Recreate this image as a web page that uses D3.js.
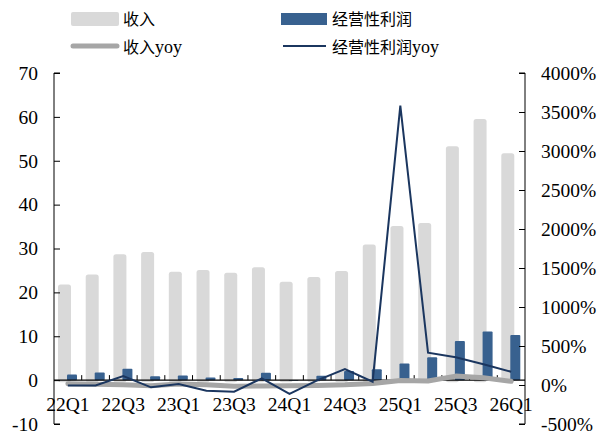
<!DOCTYPE html>
<html lang="zh">
  <head>
    <meta charset="utf-8">
    <title>收入与经营性利润</title>
    <script src="https://d3js.org/d3.v7.min.js"></script>
    <style>
      body { margin: 0; background: #fff; }
      text { font-family: "Liberation Serif", "Times New Roman", serif; }
      .cjk { font-family: "Noto Sans CJK SC", sans-serif; }
    </style>
  </head>
  <body>
    <div id="chart"></div>
    <script type="text/javascript">
      // quarters on the x axis
      const quarters = ["22Q1","22Q2","22Q3","22Q4","23Q1","23Q2","23Q3","23Q4",
                        "24Q1","24Q2","24Q3","24Q4","25Q1","25Q2","25Q3","25Q4","26Q1"];
      // only every other quarter gets a label
      const tickLabels = ["22Q1","22Q3","23Q1","23Q3","24Q1","24Q3","25Q1","25Q3","26Q1"];
      // revenue (left axis)
      const revenue = [21.8, 24.1, 28.7, 29.2, 24.7, 25.1, 24.5, 25.7,
                       22.4, 23.5, 24.9, 30.9, 35.1, 35.8, 53.3, 59.5, 51.7];
      // operating profit (left axis)
      const opProfit = [1.3, 1.75, 2.6, 0.9, 1.07, 0.6, 0.5, 1.7,
                        -0.2, 1.0, 2.1, 2.5, 3.8, 5.2, 8.9, 11.1, 10.3];
      // revenue yoy, % (right axis)
      const revenueYoy = [15, 10, 2, -10, 13, 4, -15, -12,
                          -9, -6, 2, 20, 57, 52, 114, 93, 47];
      // operating profit yoy, % (right axis)
      const opProfitYoy = [-5, -5, 115, -30, 13, -73, -86, 86,
                           -115, 60, 205, 42, 3581, 414, 355, 265, 170];
      const leftTicks = [-10, 0, 10, 20, 30, 40, 50, 60, 70];
      const rightTicks = [-500, 0, 500, 1000, 1500, 2000, 2500, 3000, 3500, 4000];

      const width = 602, height = 431;
      const plotLeft = 54, plotRight = 525, plotTop = 73, plotBottom = 424;

      var svg = d3.select("#chart")
        .append("svg")
        .attr("width", width)
        .attr("height", height);

      var x = d3.scaleBand().domain(quarters).range([plotLeft, plotRight]);
      var yL = d3.scaleLinear().domain([-10, 70]).range([plotBottom, plotTop]);
      var yR = d3.scaleLinear().domain([-500, 4000]).range([plotBottom, plotTop]);

      // revenue bars
      svg.selectAll(".rev")
        .data(quarters)
        .enter()
        .append("rect")
          .attr("class", "rev")
          .attr("x", (d) => x(d) + 4)
          .attr("width", 13)
          .attr("y", (d, i) => yL(revenue[i]))
          .attr("height", (d, i) => yL(0) - yL(revenue[i]) + 2)
          .attr("rx", 2.5)
          .attr("fill", "#d9d9d9");

      // operating profit bars
      svg.selectAll(".op")
        .data(quarters)
        .enter()
        .append("rect")
          .attr("class", "op")
          .attr("x", (d) => x(d) + 13)
          .attr("width", 10)
          .attr("y", (d, i) => Math.min(yL(opProfit[i]), yL(0)))
          .attr("height", (d, i) => Math.abs(yL(0) - yL(opProfit[i])))
          .attr("rx", 1)
          .attr("fill", "#38618f");

      // x axis at zero of the left scale
      svg.append("line")
        .attr("x1", plotLeft).attr("x2", plotRight)
        .attr("y1", yL(0)).attr("y2", yL(0))
        .attr("stroke", "#000").attr("stroke-width", 1.2);

      svg.selectAll(".xtick")
        .data(quarters.slice(1))
        .enter()
        .append("line")
          .attr("x1", (d) => x(d)).attr("x2", (d) => x(d))
          .attr("y1", yL(0)).attr("y2", yL(0) - 5)
          .attr("stroke", "#000");

      svg.selectAll(".xlab")
        .data(tickLabels)
        .enter()
        .append("text")
          .attr("x", (d) => x(d) + x.bandwidth() / 2)
          .attr("y", 411)
          .attr("text-anchor", "middle")
          .style("font-size", "19.5px")
          .text((d) => d);

      // yoy lines on the right scale
      var lineR = d3.line()
        .x((d, i) => x(quarters[i]) + x.bandwidth() / 2)
        .y((d) => yR(d));

      svg.append("path")
        .datum(revenueYoy)
        .attr("d", lineR)
        .attr("fill", "none")
        .attr("stroke", "#a6a6a6")
        .attr("stroke-width", 5)
        .attr("stroke-linecap", "round")
        .attr("stroke-linejoin", "round");

      svg.append("path")
        .datum(opProfitYoy)
        .attr("d", lineR)
        .attr("fill", "none")
        .attr("stroke", "#1b365f")
        .attr("stroke-width", 2);

      // left axis
      var yAxisL = d3.axisRight(yL).tickValues(leftTicks).tickSize(6).tickFormat("");
      var gL = svg.append("g")
        .attr("transform", "translate(" + plotLeft + ",0)")
        .call(yAxisL);
      gL.select(".domain").attr("d", "M6," + plotTop + "H0V" + plotBottom + "H6");

      svg.selectAll(".ylab")
        .data(leftTicks)
        .enter()
        .append("text")
          .attr("x", 38)
          .attr("y", (d) => yL(d))
          .attr("dy", "0.35em")
          .attr("text-anchor", "end")
          .style("font-size", "19.5px")
          .text((d) => d);

      // right axis
      var yAxisR = d3.axisLeft(yR).tickValues(rightTicks).tickSize(6).tickFormat("");
      var gR = svg.append("g")
        .attr("transform", "translate(" + plotRight + ",0)")
        .call(yAxisR);
      gR.select(".domain").attr("d", "M-6," + plotTop + "H0V" + plotBottom + "H-6");

      svg.selectAll(".rlab")
        .data(rightTicks)
        .enter()
        .append("text")
          .attr("x", 541)
          .attr("y", (d) => yR(d))
          .attr("dy", "0.35em")
          .style("font-size", "19.5px")
          .text((d) => d + "%");

      // legend
      var legend = svg.append("g");
      legend.append("rect")
        .attr("x", 71).attr("y", 12).attr("width", 48).attr("height", 14)
        .attr("rx", 2).attr("fill", "#d9d9d9");
      legend.append("rect")
        .attr("x", 281).attr("y", 13).attr("width", 46).attr("height", 12)
        .attr("fill", "#38618f");
      legend.append("line")
        .attr("x1", 73).attr("x2", 117).attr("y1", 46).attr("y2", 46)
        .attr("stroke", "#a6a6a6").attr("stroke-width", 5).attr("stroke-linecap", "round");
      legend.append("line")
        .attr("x1", 283).attr("x2", 326).attr("y1", 46).attr("y2", 46)
        .attr("stroke", "#1b365f").attr("stroke-width", 2);

      var legendItems = [
        {x: 123, y: 19, cn: "收入", en: ""},
        {x: 332, y: 19, cn: "经营性利润", en: ""},
        {x: 123, y: 47, cn: "收入", en: "yoy"},
        {x: 332, y: 47, cn: "经营性利润", en: "yoy"}
      ];
      legendItems.forEach(function(d) {
        var t = legend.append("text")
          .attr("x", d.x).attr("y", d.y)
          .attr("dy", "0.35em");
        t.append("tspan").attr("class", "cjk").style("font-size", "16px").text(d.cn);
        if (d.en) t.append("tspan").style("font-size", "18px").text(d.en);
      });
    </script>
  </body>
</html>
